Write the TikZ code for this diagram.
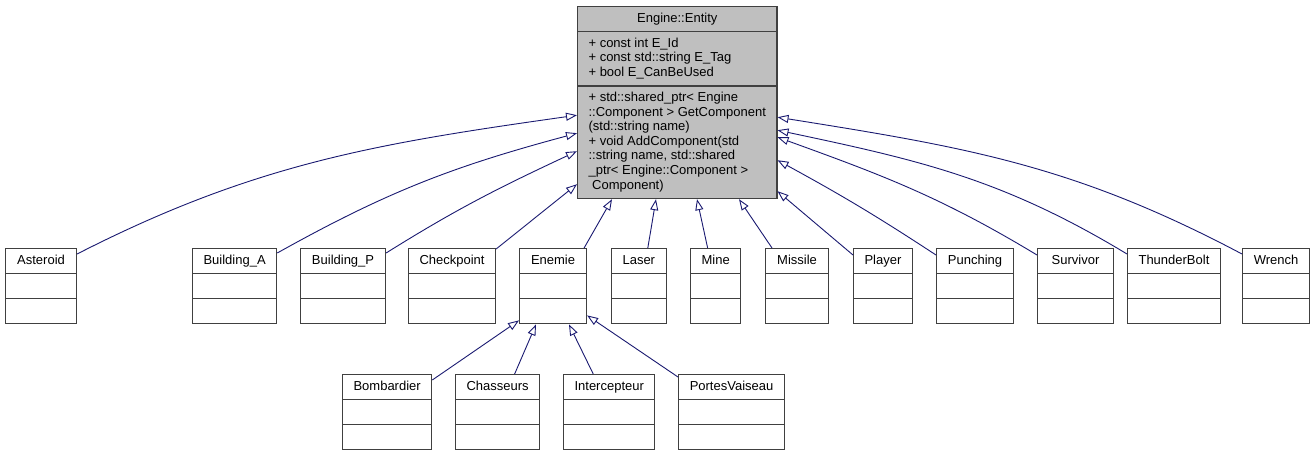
\documentclass[tikz,border=0pt]{standalone}
\usepackage{fontspec}
\setmainfont{Liberation Sans}
\usetikzlibrary{shapes.multipart,arrows.meta}
\definecolor{edgeblue}{HTML}{191970}
\definecolor{boxline}{HTML}{404040}
\definecolor{entfill}{HTML}{BFBFBF}

\begin{document}
\begin{tikzpicture}
      [x = 1pt, y = -1pt,
      umlclass/.style= {
         draw = boxline,
         line width = 1.1pt,
         fill = white,
         rectangle split,
         rectangle split parts = 3,
         anchor = north west,
         inner xsep = 11pt,
         inner ysep = 4.7pt,
         font = \fontsize{13}{14.6}\selectfont
      },
      extends/.style= {
         draw = edgeblue,
         line width = 0.9pt,
         -{Triangle[open, length = 11pt, width = 8pt]}
      }]

      \useasboundingbox (0, 0) rectangle (1314, 456);

      % base class
      \node[umlclass, fill = entfill, minimum width = 199pt, align = left,
            rectangle split part align = {center, left, left}] (entity) at (577, 6)
         {\strut Engine::Entity\strut
          \nodepart{two}\strut + const int E\_Id\\
          + const std::string E\_Tag\\
          + bool E\_CanBeUsed\strut
          \nodepart{three}\strut + std::shared\_ptr< Engine\\
          ::Component > GetComponent\\
          (std::string name)\\
          + void AddComponent(std\\
          ::string name, std::shared\\
          \_ptr< Engine::Component >\\
          \hspace*{3.6pt}Component)\strut};

      % derived classes
      \node[umlclass, minimum width = 71pt] (asteroid) at (5, 248) {\strut Asteroid \nodepart{two}\strut \nodepart{three}\strut};
      \node[umlclass, minimum width = 84pt] (buildinga) at (192, 248) {\strut Building\_A \nodepart{two}\strut \nodepart{three}\strut};
      \node[umlclass, minimum width = 85pt] (buildingp) at (300, 248) {\strut Building\_P \nodepart{two}\strut \nodepart{three}\strut};
      \node[umlclass, minimum width = 87pt] (checkpoint) at (408, 248) {\strut Checkpoint \nodepart{two}\strut \nodepart{three}\strut};
      \node[umlclass, minimum width = 67pt] (enemie) at (519, 248) {\strut Enemie \nodepart{two}\strut \nodepart{three}\strut};
      \node[umlclass, minimum width = 54pt] (laser) at (611, 248) {\strut Laser \nodepart{two}\strut \nodepart{three}\strut};
      \node[umlclass, minimum width = 50pt] (mine) at (690, 248) {\strut Mine \nodepart{two}\strut \nodepart{three}\strut};
      \node[umlclass, minimum width = 63pt] (missile) at (765, 248) {\strut Missile \nodepart{two}\strut \nodepart{three}\strut};
      \node[umlclass, minimum width = 58pt] (player) at (853, 248) {\strut Player \nodepart{two}\strut \nodepart{three}\strut};
      \node[umlclass, minimum width = 77pt] (punching) at (936, 248) {\strut Punching \nodepart{two}\strut \nodepart{three}\strut};
      \node[umlclass, minimum width = 76pt] (survivor) at (1037, 248) {\strut Survivor \nodepart{two}\strut \nodepart{three}\strut};
      \node[umlclass, minimum width = 91pt] (thunderbolt) at (1127, 248) {\strut ThunderBolt \nodepart{two}\strut \nodepart{three}\strut};
      \node[umlclass, minimum width = 67pt] (wrench) at (1242, 248) {\strut Wrench \nodepart{two}\strut \nodepart{three}\strut};

      % enemies
      \node[umlclass, minimum width = 88pt] (bombardier) at (342, 374) {\strut Bombardier \nodepart{two}\strut \nodepart{three}\strut};
      \node[umlclass, minimum width = 83pt] (chasseurs) at (455, 374) {\strut Chasseurs \nodepart{two}\strut \nodepart{three}\strut};
      \node[umlclass, minimum width = 90pt] (intercepteur) at (563, 374) {\strut Intercepteur \nodepart{two}\strut \nodepart{three}\strut};
      \node[umlclass, minimum width = 106pt] (portes) at (678, 374) {\strut PortesVaiseau \nodepart{two}\strut \nodepart{three}\strut};

      % inheritance to Entity
      \draw[extends] ([yshift = -6pt]asteroid.north east) .. controls +(178, -91) and +(-198, 28) .. ([yshift = 84pt]entity.south west);
      \draw[extends] ([yshift = -5pt]buildinga.north east) .. controls +(111, -62) and +(-123, 33) .. ([yshift = 66pt]entity.south west);
      \draw[extends] ([yshift = -5pt]buildingp.north east) .. controls +(72, -45) and +(-77, 36) .. ([yshift = 48pt]entity.south west);
      \draw[extends] ([yshift = -1pt]checkpoint.north east) -- ([yshift = 15pt]entity.south west);
      \draw[extends] ([xshift = -3pt]enemie.north east) -- ([xshift = 35pt]entity.south west);
      \draw[extends] ([xshift = 9pt]laser.north) -- ([xshift = 79pt]entity.south west);
      \draw[extends] ([xshift = -8pt]mine.north) -- ([xshift = 120pt]entity.south west);
      \draw[extends] ([xshift = 7pt]missile.north west) -- ([xshift = 162pt]entity.south west);
      \draw[extends] ([yshift = -7pt]player.north west) -- ([yshift = 8pt]entity.south east);
      \draw[extends] ([yshift = -7pt]punching.north west) .. controls +(-61, -40) and +(64, 35) .. ([yshift = 39pt]entity.south east);
      \draw[extends] ([yshift = -7pt]survivor.north west) .. controls +(-96, -58) and +(105, 38) .. ([yshift = 62pt]entity.south east);
      \draw[extends] ([yshift = -6pt]thunderbolt.north west) .. controls +(-124, -75) and +(142, 30) .. ([yshift = 69pt]entity.south east);
      \draw[extends] ([yshift = -6pt]wrench.north west) .. controls +(-168, -89) and +(188, 30) .. ([yshift = 82pt]entity.south east);

      % inheritance to Enemie
      \draw[extends] ([yshift = -6pt]bombardier.north east) -- ([yshift = 4pt]enemie.south west);
      \draw[extends] ([xshift = 17pt]chasseurs.north) -- ([xshift = 17pt]enemie.south west);
      \draw[extends] ([xshift = -16pt]intercepteur.north) -- ([xshift = 50pt]enemie.south west);
      \draw[extends] ([yshift = -3pt]portes.north west) -- ([yshift = 9pt]enemie.south east);

   \end{tikzpicture}
\end{document}
